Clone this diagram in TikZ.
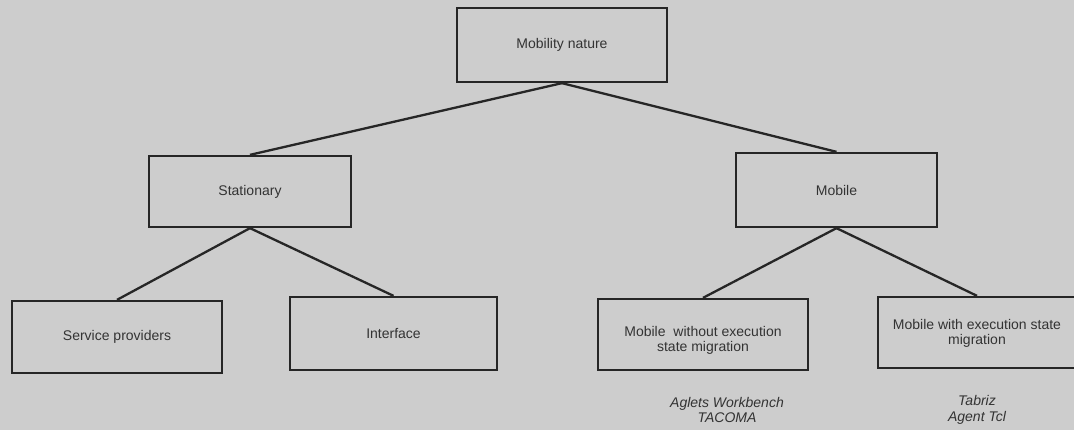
\documentclass[tikz,border=0pt]{standalone}
\usepackage{fontspec}
\setmainfont{Liberation Sans}
\definecolor{bg}{HTML}{CDCDCD}
\definecolor{ink}{HTML}{262626}
\definecolor{txt}{HTML}{333333}
\begin{document}
\begin{tikzpicture}[x=1pt,y=-1pt,
  box/.style={draw=ink, line width=2.3pt, fill=bg, inner sep=0pt, align=center,
    font=\fontsize{14}{15}\selectfont, text=txt},
  boxtext/.style={inner sep=0pt, align=center, font=\fontsize{14}{15}\selectfont, text=txt},
  link/.style={draw=ink, line width=2.3pt},
  note/.style={align=center, inner sep=0pt, text=txt,
    font=\fontsize{14}{15.5}\selectfont\itshape}]
\fill[bg] (0,0) rectangle (1074,430);
\useasboundingbox (0,0) rectangle (1074,430);
\clip (0,0) rectangle (1074,430);

\node[box, minimum width=210pt, minimum height=74pt] (root) at (562,45) {Mobility nature};
\node[box, minimum width=202pt, minimum height=71pt] (stat) at (250,191.5) {Stationary};
\node[box, minimum width=201pt, minimum height=74pt] (mob) at (836.5,190) {Mobile};
\node[box, minimum width=210pt, minimum height=72pt] (serv) at (117,337) {Service providers};
\node[box, minimum width=207pt, minimum height=73pt] (intf) at (393.5,333.5) {Interface};
\node[box, minimum width=210pt, minimum height=71pt] (mwo) at (703,334.5) {};
\node[boxtext] (mwotext) at (703,340.5) {Mobile\ \ without execution\\state migration};
\node[box, minimum width=198pt, minimum height=71pt] (mw) at (977,332.5) {};
\node[boxtext] (mwtext) at (977,333.5) {Mobile with execution state\\migration};

\node[note] (ex1) at (727,410) {Aglets Workbench\\TACOMA};
\node[note] (ex2) at (977,410) {Tabriz\\Agent Tcl};

\draw[link] (root.south) -- (stat.north);
\draw[link] (root.south) -- (mob.north);
\draw[link] (stat.south) -- (serv.north);
\draw[link] (stat.south) -- (intf.north);
\draw[link] (mob.south) -- (mwo.north);
\draw[link] (mob.south) -- (mw.north);
\end{tikzpicture}
\end{document}
